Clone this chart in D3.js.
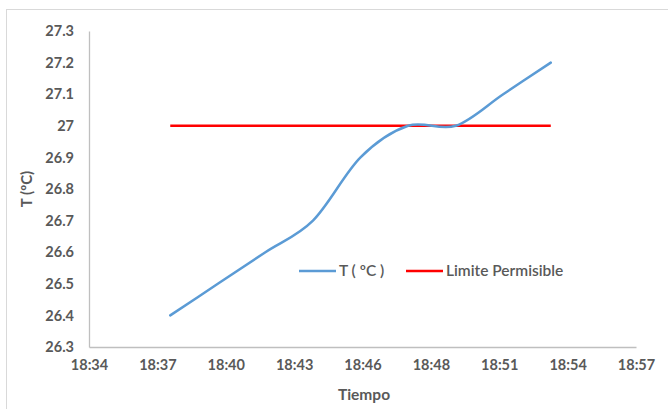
<!DOCTYPE html>
<html><head><meta charset="utf-8">
<script src="https://cdn.jsdelivr.net/npm/d3@7"></script>
<style>body{margin:0;background:#fff}svg{display:block}</style>
</head><body>
<svg id="c" width="668" height="409"></svg>
<script>
const times = ["18:37:25","18:39:25","18:41:25","18:43:25","18:45:25","18:47:25","18:49:25","18:51:25","18:53:25"];
const tempValues = [26.4, 26.5, 26.6, 26.7, 26.9, 27.0, 27.0, 27.1, 27.2];
const limitValues = [27, 27, 27, 27, 27, 27, 27, 27, 27];
const xTickLabels = ["18:34","18:37","18:40","18:43","18:46","18:48","18:51","18:54","18:57"];
const yTicks = [26.3,26.4,26.5,26.6,26.7,26.8,26.9,27,27.1,27.2,27.3];
const seriesNames = ["T ( ºC )", "Limite Permisible"];

(function(){
const parse = d3.timeParse("%H:%M:%S");
const svg = d3.select("#c");
const font = "Lato, 'Open Sans', sans-serif";
const textCol = "#595959";

svg.append("rect").attr("x",6.5).attr("y",9.5).attr("width",700).attr("height",420)
  .attr("fill","#fff").attr("stroke","#d9d9d9").attr("stroke-width",1);

const mLeft = 89, mRight = 636, mTop = 31, mBottom = 347;
const x = d3.scaleTime().domain([parse("18:34:00"), parse("18:57:00")]).range([mLeft, mRight]);
const y = d3.scaleLinear().domain([26.3, 27.3]).range([mBottom, mTop]);

const d0 = x.domain()[0].getTime(), d1 = x.domain()[1].getTime();
const xTickVals = xTickLabels.map((l,i)=> new Date(d0 + (d1-d0)*i/(xTickLabels.length-1)));

const xAxis = d3.axisBottom(x).tickValues(xTickVals).tickFormat((d,i)=>xTickLabels[i]).tickSize(0).tickPadding(13);
const gx = svg.append("g").attr("transform",`translate(0,${mBottom})`).call(xAxis);
const yAxis = d3.axisLeft(y).tickValues(yTicks).tickFormat(d3.format("")).tickSize(0).tickPadding(15);
const gy = svg.append("g").attr("transform",`translate(${mLeft},0)`).call(yAxis);
[gx,gy].forEach(g=>{
  g.select(".domain").attr("stroke","#bfbfbf").attr("stroke-width",1.3);
  g.selectAll("text").attr("fill",textCol).attr("font-family",font).attr("font-weight","bold").attr("font-size","14.5px");
});

const data = times.map((t,i)=>({t:parse(t), v:tempValues[i], l:limitValues[i]}));

svg.append("path").datum(data)
  .attr("fill","none").attr("stroke","#ff0000").attr("stroke-width",2.5)
  .attr("d", d3.line().x(d=>x(d.t)).y(d=>y(d.l)));

svg.append("path").datum(data)
  .attr("fill","none").attr("stroke","#5b9bd5").attr("stroke-width",2.5).attr("stroke-linecap","round")
  .attr("d", d3.line().curve(d3.curveCardinal.tension(0)).x(d=>x(d.t)).y(d=>y(d.v)));

svg.append("text").attr("x",364).attr("y",400).attr("text-anchor","middle")
  .attr("fill",textCol).attr("font-family",font).attr("font-weight","bold").attr("font-size","15.5px").text("Tiempo");
svg.append("text").attr("transform","translate(32,189) rotate(-90)").attr("text-anchor","middle")
  .attr("fill",textCol).attr("font-family",font).attr("font-weight","bold").attr("font-size","15px").text("T (ºC)");

const legend = [{name:seriesNames[0], color:"#5b9bd5", x:299},{name:seriesNames[1], color:"#ff0000", x:406}];
const lg = svg.append("g").attr("transform","translate(0,271)");
legend.forEach(e=>{
  lg.append("line").attr("x1",e.x).attr("x2",e.x+37).attr("y1",0).attr("y2",0).attr("stroke",e.color).attr("stroke-width",2.5);
  lg.append("text").attr("x",e.x+40).attr("y",0).attr("dy","0.35em").attr("fill",textCol)
    .attr("font-family",font).attr("font-weight","600").attr("font-size","15.5px").text(e.name);
});
})();
</script>
</body></html>
